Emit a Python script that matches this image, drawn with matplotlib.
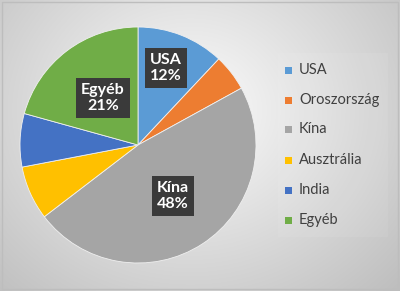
import numpy as np
import matplotlib
matplotlib.use("Agg")
import matplotlib.pyplot as plt
from matplotlib.patches import Rectangle

categories = ["USA", "Oroszország", "Kína", "Ausztrália", "India", "Egyéb"]
values = [12, 5, 47.6, 7.4, 7.3, 20.7]
colors = ["#5B9BD5", "#ED7D31", "#A5A5A5", "#FFC000", "#4472C4", "#70AD47"]
shown_labels = {"USA", "Kína", "Egyéb"}

W, H = 400, 291
fig = plt.figure(figsize=(W / 100, H / 100), dpi=100)

# background gradient
bg = fig.add_axes([0, 0, 1, 1])
yy, xx = np.mgrid[0:H, 0:W]
d = np.sqrt(((xx - 190) / 260.0) ** 2 + ((yy - 110) / 230.0) ** 2)
val = 0.99 - 0.22 * np.clip(d, 0, 1.2)
img = np.dstack([val, val, val])
bg.imshow(img, extent=[0, W, H, 0], aspect="auto")
bg.set_xlim(0, W)
bg.set_ylim(H, 0)
bg.axis("off")
bg.add_patch(Rectangle((2, 2), W - 4, H - 4, fill=False, edgecolor="#bdbdbd", lw=1))
# legend panel
bg.add_patch(Rectangle((278, 53), 110, 184, facecolor="#ffffff", alpha=0.07, edgecolor="none"))

# pie
cx, cy, r = 138, 145, 118
ax = fig.add_axes([(cx - r) / W, 1 - (cy + r) / H, 2 * r / W, 2 * r / H])
wedges, _ = ax.pie(values, colors=colors, startangle=90, counterclock=False,
                   wedgeprops=dict(linewidth=0.6, edgecolor="#f0f0f0"))
ax.set_aspect("auto")
ax.set_xlim(-1, 1)
ax.set_ylim(-1, 1)

# overlay for labels and legend
ov = fig.add_axes([0, 0, 1, 1])
ov.set_xlim(0, W)
ov.set_ylim(H, 0)
ov.axis("off")
ov.patch.set_alpha(0)

total = sum(values)
label_pos = {"USA": (166, 68), "Kína": (173, 196), "Egyéb": (103, 98)}
for cat, v in zip(categories, values):
    if cat in shown_labels:
        px, py = label_pos[cat]
        ov.text(px, py, f"{cat}\n{v / total * 100:.0f}%", ha="center", va="center",
                color="white", fontsize=11.5, fontweight="bold", family="Lato",
                linespacing=1.2,
                bbox=dict(boxstyle="square,pad=0.3", facecolor="#3a3a3a", edgecolor="none"))

# legend
ys = [70, 100, 129, 160, 190, 220]
for cat, c, y in zip(categories, colors, ys):
    ov.add_patch(Rectangle((285, y - 3.5), 7, 7, facecolor=c, edgecolor="none"))
    ov.text(299, y, cat, ha="left", va="center", fontsize=10.5, color="#404040",
            family="Lato")

fig.savefig("out.png", dpi=100)
